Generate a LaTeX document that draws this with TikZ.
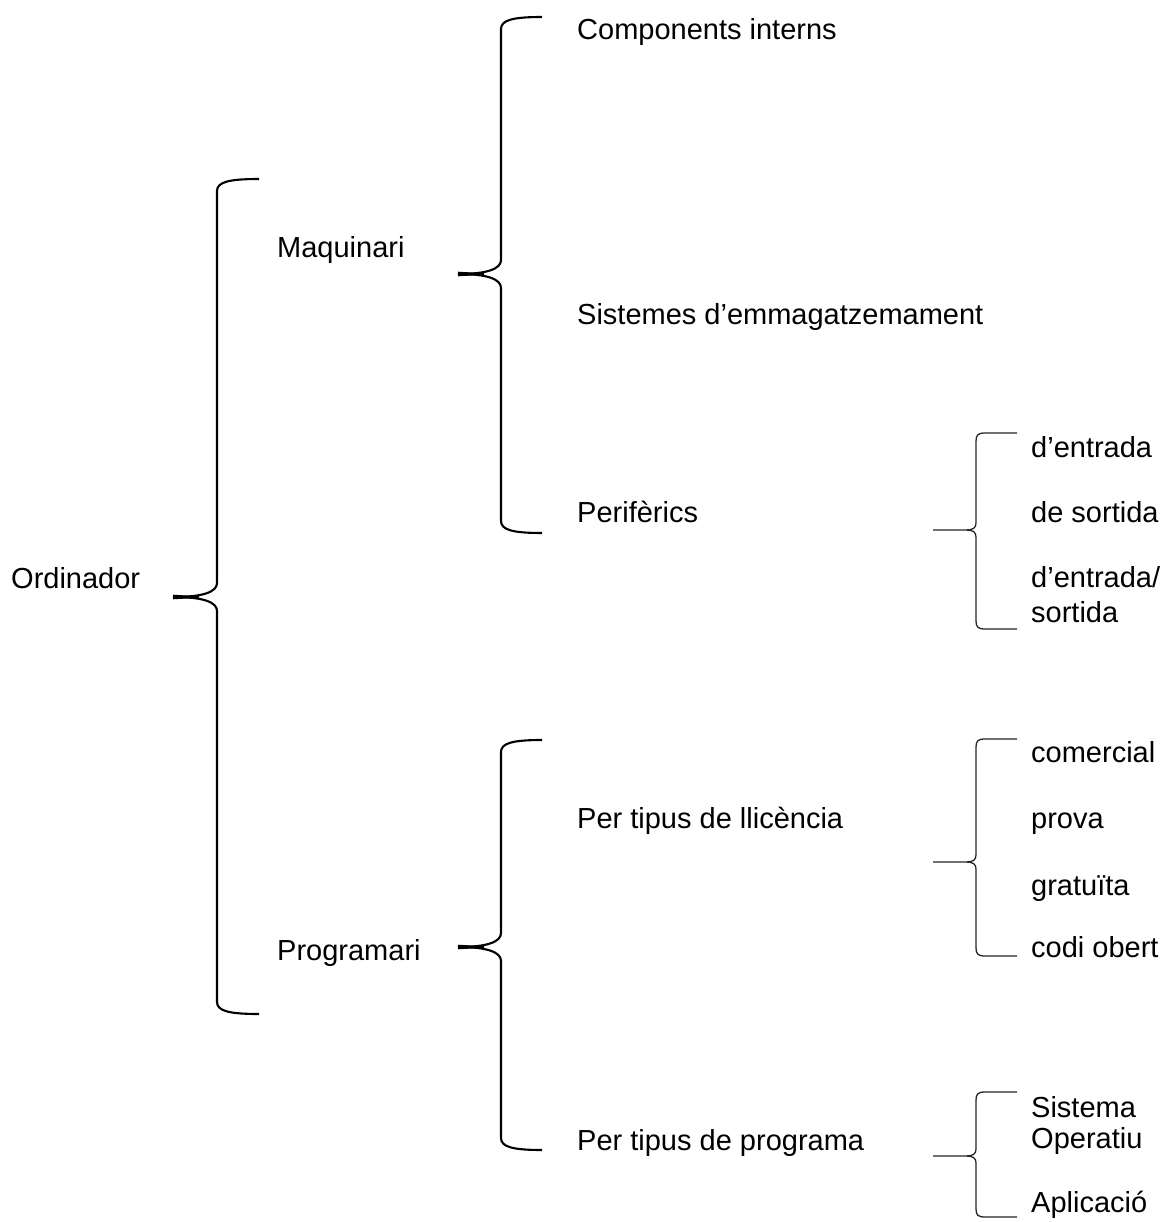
\documentclass[tikz,border=0pt]{standalone}
\usepackage{fontspec}
\setmainfont{Liberation Sans}
\begin{document}
\begin{tikzpicture}[x=1pt,y=-1pt,
  lbl/.style={anchor=base west,inner sep=0pt,font=\fontsize{29}{34}\selectfont},
  bigbr/.style={line width=2.1pt,black},
  smallbr/.style={line width=1.3pt,black!85}]
\useasboundingbox (0,0) rectangle (1169,1222);
% labels
\node[lbl] (ord) at (11,588) {Ordinador};
\node[lbl] (maq) at (277,258) {Maquinari};
\node[lbl] (prog) at (277,960) {Programari};
\node[lbl] (comp) at (577,40) {Components interns};
\node[lbl] (sist) at (577,324) {Sistemes d’emmagatzemament};
\node[lbl] (peri) at (577,522) {Perifèrics};
\node[lbl] (llic) at (577,828) {Per tipus de llicència};
\node[lbl] (tprog) at (577,1150) {Per tipus de programa};
\node[lbl] (entr) at (1031,457) {d’entrada};
\node[lbl] (sort) at (1031,522) {de sortida};
\node[lbl] (es1) at (1031,587) {d’entrada/};
\node[lbl] (es2) at (1031,622) {sortida};
\node[lbl] (com) at (1031,762) {comercial};
\node[lbl] (prov) at (1031,828) {prova};
\node[lbl] (grat) at (1031,895) {gratuïta};
\node[lbl] (codi) at (1031,957) {codi obert};
\node[lbl] (so1) at (1031,1117) {Sistema};
\node[lbl] (so2) at (1031,1148) {Operatiu};
\node[lbl] (apl) at (1031,1212) {Aplicació};
% big braces: #1 x, #2 top, #3 bottom, #4 tip x, #5 tip y, #6 end x
\newcommand\mybigbrace[6]{%
  \draw[bigbr] (#6,#2) .. controls ({#1+12},#2) and (#1,{#2+3}) .. (#1,{#2+12})
     -- (#1,{#5-14}) .. controls (#1,{#5-5}) and ({#1-14},#5) .. (#4,#5)
     .. controls ({#1-14},#5) and (#1,{#5+5}) .. (#1,{#5+14})
     -- (#1,{#3-12}) .. controls (#1,{#3-3}) and ({#1+12},#3) .. (#6,#3);
  \fill (#4,{#5-2.3}) -- ({#4+26},{#5-0.8}) -- ({#4+26},{#5+0.8}) -- (#4,{#5+2.3}) -- cycle;}
\newcommand\mysmallbrace[6]{%
  \draw[smallbr] (#6,#2) -- ({#1+9},#2) .. controls ({#1+2},#2) and (#1,{#2+2}) .. (#1,{#2+8})
     -- (#1,{#5-7}) .. controls (#1,{#5-2}) and ({#1-3},#5) .. ({#1-10},#5) -- (#4,#5)
     -- ({#1-10},#5) .. controls ({#1-3},#5) and (#1,{#5+2}) .. (#1,{#5+7})
     -- (#1,{#3-8}) .. controls (#1,{#3-2}) and ({#1+2},#3) .. ({#1+9},#3) -- (#6,#3);}
\mybigbrace{217}{179}{1014}{173}{597}{259}
\mybigbrace{501}{17}{533}{458}{274}{542}
\mybigbrace{501}{740}{1150}{458}{947}{542}
\mysmallbrace{976}{433}{629}{933}{530}{1017}
\mysmallbrace{976}{739}{956}{933}{862}{1017}
\mysmallbrace{976}{1092}{1217}{933}{1156}{1017}
\end{tikzpicture}
\end{document}
